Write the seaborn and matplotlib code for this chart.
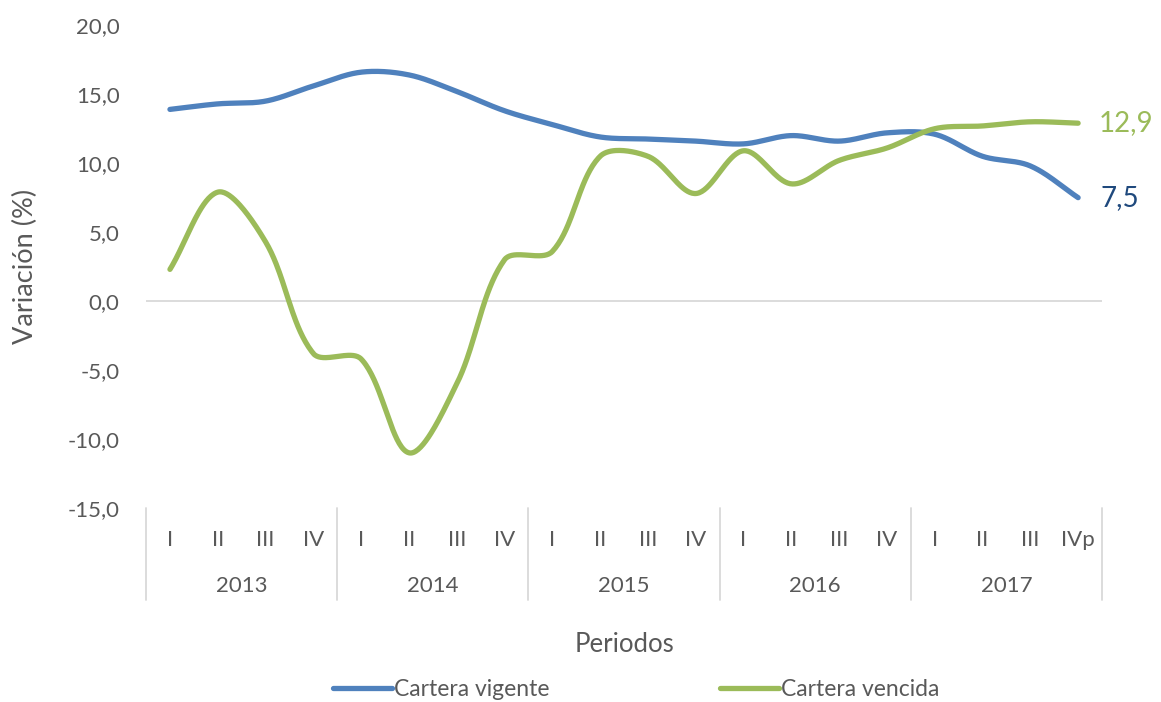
import numpy as np
import matplotlib
matplotlib.use('Agg')
import matplotlib.pyplot as plt
import matplotlib.transforms as mtransforms
import seaborn as sns

YEARS = ['2013', '2014', '2015', '2016', '2017']
QUARTERS = ['I', 'II', 'III', 'IV'] * 4 + ['I', 'II', 'III', 'IVp']
VIGENTE = [13.9, 14.3, 14.5, 15.6, 16.6, 16.4, 15.2, 13.8,
           12.8, 11.9, 11.75, 11.6, 11.4, 12.0, 11.6, 12.2,
           12.1, 10.5, 9.8, 7.5]
VENCIDA = [2.3, 7.9, 4.3, -3.8, -4.2, -11.0, -6.0, 3.0,
           3.6, 10.5, 10.5, 7.8, 10.9, 8.5, 10.2, 11.1,
           12.5, 12.7, 13.0, 12.9]

BLUE = '#4F81BD'
GREEN = '#9BBB59'
GRAY = '#595959'
LIGHT = '#D9D9D9'

# pixels per unit on each axis, used so the smoothing works in screen space
PX_X, PX_Y = 47.8, 13.8


def smooth(y, n=40):
    # bezier smoothing with segment-length aware tangents (close to Excel)
    p = np.column_stack([np.arange(len(y)) * PX_X, np.asarray(y, float) * PX_Y])
    out = []
    for i in range(len(p) - 1):
        p0 = p[i - 1] if i > 0 else p[i]
        p1, p2 = p[i], p[i + 1]
        p3 = p[i + 2] if i + 2 < len(p) else p[i + 1]
        d01 = np.linalg.norm(p1 - p0)
        d12 = np.linalg.norm(p2 - p1)
        d23 = np.linalg.norm(p3 - p2)
        c1 = p1 + (p2 - p0) * d12 / (d01 + d12) / 3 if d01 > 0 else p1 + (p2 - p1) / 3
        c2 = p2 - (p3 - p1) * d12 / (d12 + d23) / 3 if d23 > 0 else p2 - (p2 - p1) / 3
        t = np.linspace(0, 1, n, endpoint=(i == len(p) - 2))[:, None]
        seg = ((1 - t)**3 * p1 + 3 * (1 - t)**2 * t * c1
               + 3 * (1 - t) * t**2 * c2 + t**3 * p2)
        out.append(seg)
    out = np.vstack(out)
    return out[:, 0] / PX_X, out[:, 1] / PX_Y


sns.set_theme(style='white')
plt.rcParams['font.family'] = ['Lato', 'DejaVu Sans']

fig = plt.figure(figsize=(11.61, 7.02), dpi=100)
ax = fig.add_axes([0.1258, 0.2764, 0.8234, 0.6876])

ax.axhline(0, color=LIGHT, lw=1.3, zorder=1)

for vals, color, name in [(VIGENTE, BLUE, 'Cartera vigente'), (VENCIDA, GREEN, 'Cartera vencida')]:
    sx, sy = smooth(vals)
    sns.lineplot(x=sx, y=sy, ax=ax, color=color, lw=3.8, sort=False,
                 estimator=None, label=name, solid_capstyle='round', zorder=3)

ax.set_xlim(-0.5, len(QUARTERS) - 0.5)
ax.set_ylim(-15, 20)
ax.set_yticks(np.arange(-15, 21, 5))
ax.set_yticklabels([f'{v:.1f}'.replace('.', ',') for v in np.arange(-15, 21, 5)],
                   fontsize=16, color=GRAY)
ax.tick_params(axis='y', length=0, pad=19)

ax.set_xticks(range(len(QUARTERS)))
ax.set_xticklabels(QUARTERS, fontsize=16, color=GRAY)
ax.tick_params(axis='x', length=0, pad=16)

for s in ax.spines.values():
    s.set_visible(False)

# year level of the category axis
trans = mtransforms.blended_transform_factory(ax.transData, ax.transAxes)
for k in range(len(YEARS) + 1):
    ax.plot([k * 4 - 0.5] * 2, [0, -0.19], color=LIGHT, lw=1.3,
            transform=trans, clip_on=False)
for k, yr in enumerate(YEARS):
    ax.text(k * 4 + 1.5, -0.161, yr, transform=trans, ha='center', va='center',
            fontsize=16, color=GRAY)

ax.set_xlabel('Periodos', fontsize=18.5, color=GRAY, labelpad=59)
ax.set_ylabel('Variación (%)', fontsize=19.5, color=GRAY, labelpad=21)

# end labels
ax.annotate(f'{VENCIDA[-1]:.1f}'.replace('.', ','), (len(VENCIDA) - 1, VENCIDA[-1]),
            xytext=(15, 0), textcoords='offset points', va='center',
            fontsize=20, color=GREEN)
ax.annotate(f'{VIGENTE[-1]:.1f}'.replace('.', ','), (len(VIGENTE) - 1, VIGENTE[-1]),
            xytext=(16, 0), textcoords='offset points', va='center',
            fontsize=20, color='#1F497D')

ax.get_legend().remove()
handles, labels = ax.get_legend_handles_labels()
fig.legend(handles, labels, loc='center', bbox_to_anchor=(0.548, 0.018), ncol=2,
           frameon=False, fontsize=16.5, handlelength=2.6, handletextpad=0.1,
           columnspacing=7.4, labelcolor=GRAY)

fig.savefig('out.png', dpi=100)
